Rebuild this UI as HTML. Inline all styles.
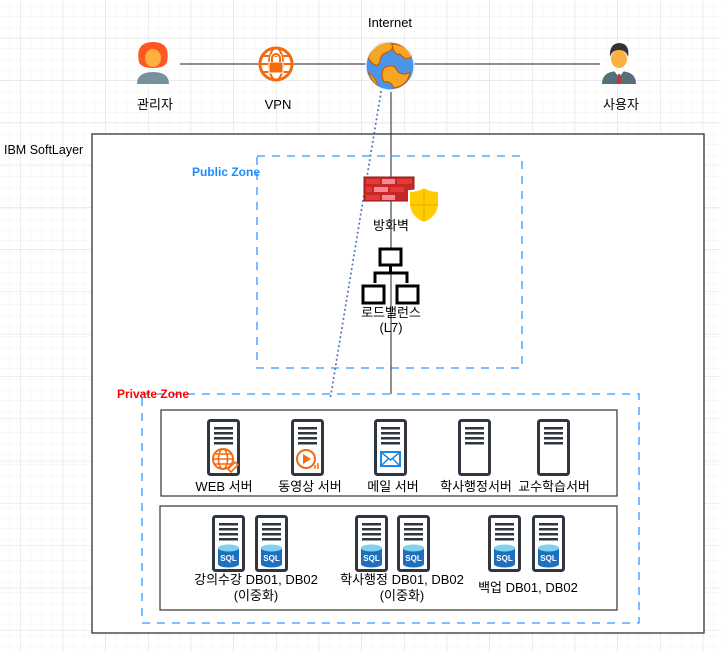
<!DOCTYPE html>
<html><head><meta charset="utf-8"><style>
body{margin:0;background:#fff}
svg{display:block}
text{font-family:"Liberation Sans","Noto Sans CJK KR",sans-serif;font-size:13px;fill:#000}
</style></head><body>
<svg width="721" height="652" viewBox="0 0 721 652" xmlns="http://www.w3.org/2000/svg">
<defs>
<pattern id="minor" x="20" y="37.8" width="10.6667" height="10.6667" patternUnits="userSpaceOnUse">
<path d="M0 0H10.6667M0 0V10.6667" stroke="#f1f1f1" stroke-width="1" fill="none"/>
</pattern>
<pattern id="major" x="20" y="37.8" width="42.6667" height="42.3" patternUnits="userSpaceOnUse">
<path d="M0 0H42.6667M0 0V42.3" stroke="#dddddd" stroke-width="1" fill="none"/>
</pattern>
<g id="srv">
<rect x="1.5" y="1.5" width="30" height="54" rx="2" fill="#fff" stroke="#2f3640" stroke-width="3"/>
<rect x="7" y="8" width="19" height="2.5" fill="#2f3640"/>
<rect x="7" y="13" width="19" height="2.5" fill="#2f3640"/>
<rect x="7" y="18" width="19" height="2.5" fill="#2f3640"/>
<rect x="7" y="23" width="19" height="2.5" fill="#2f3640"/>
</g>
<g id="sql">
<use href="#srv"/>
<path d="M6 33 v16 a10.5 3.5 0 0 0 21 0 v-16z" fill="#1f6fbf"/>
<ellipse cx="16.5" cy="33" rx="10.5" ry="3.5" fill="#7fd3ef"/>
<text x="16.5" y="46" text-anchor="middle" style="font-size:8px;font-weight:bold;fill:#fff">SQL</text>
</g>
</defs>
<rect width="721" height="652" fill="url(#minor)"/>
<rect width="721" height="652" fill="url(#major)"/>

<rect x="92" y="134" width="612" height="499" fill="#fff" stroke="#333" stroke-width="1.3"/>
<text x="4" y="154" style="font-size:12.5px">IBM SoftLayer</text>

<rect x="257" y="156" width="265" height="212" fill="none" stroke="#3399ff" stroke-width="1.3" stroke-dasharray="8,7"/>
<text x="192" y="176" style="fill:#1a8cff;font-weight:bold;font-size:12px">Public Zone</text>
<rect x="142" y="394" width="497" height="229" fill="none" stroke="#3399ff" stroke-width="1.3" stroke-dasharray="8,7"/>
<text x="117" y="398" style="fill:#ff0000;font-weight:bold;font-size:12px">Private Zone</text>

<line x1="180" y1="64" x2="600" y2="64" stroke="#222" stroke-width="1"/>
<line x1="391" y1="92" x2="391" y2="394" stroke="#222" stroke-width="1"/>
<line x1="381" y1="92" x2="330" y2="400" stroke="#5577bb" stroke-width="2" stroke-dasharray="0.1,4.5" stroke-linecap="round"/>

<g>
<path d="M139 62 q-4-20 14-20 q18 0 14 20 q-2 6-14 6 q-12 0-14-6z" fill="#ff5722"/>
<ellipse cx="153" cy="58" rx="8" ry="9" fill="#fbb040"/>
<path d="M137 84 q0-12 16-12 q16 0 16 12z" fill="#78909c"/>
<path d="M146 50 q7-6 15 0 v-3 q-8-5-15 0z" fill="#ff5722"/>
</g>
<text x="155" y="109" text-anchor="middle">관리자</text>

<g transform="translate(276,64)">
<circle r="16" fill="#fff" stroke="#f36b10" stroke-width="3"/>
<ellipse rx="7" ry="16" fill="none" stroke="#f36b10" stroke-width="2"/>
<line x1="-16" y1="0" x2="16" y2="0" stroke="#f36b10" stroke-width="2"/>
<line x1="-13" y1="-8" x2="13" y2="-8" stroke="#f36b10" stroke-width="2"/>
<line x1="-13" y1="8" x2="13" y2="8" stroke="#f36b10" stroke-width="2"/>
<rect x="-7" y="-2" width="14" height="11" fill="#f36b10" stroke="#fff" stroke-width="1"/>
<path d="M-4-2 v-4 a4 4 0 0 1 8 0 v4" fill="none" stroke="#fff" stroke-width="4"/>
<path d="M-4-2 v-4 a4 4 0 0 1 8 0 v4" fill="none" stroke="#f36b10" stroke-width="2"/>
</g>
<text x="278" y="109" text-anchor="middle">VPN</text>

<text x="390" y="27" text-anchor="middle">Internet</text>
<g transform="translate(390,66)">
<circle r="24" fill="#4a95ea"/>
<path d="M-22-8 q6-16 22-16 q6 6-2 10 q-8 2-8 10 q-4 8-12 -4z" fill="#f5a623" stroke="#c85a00" stroke-width="1.2"/>
<path d="M2-22 q14 0 20 12 q-6 6-12-2 q-6 2-8-10z" fill="#f5a623" stroke="#c85a00" stroke-width="1.2"/>
<path d="M-6 2 q10-6 14 4 q6 4 12 0 q-2 14-16 16 q-4-8-10-6 q-4-8 0-14z" fill="#f5a623" stroke="#c85a00" stroke-width="1.2"/>
<path d="M-22 6 q4 10 10 14 q-2-8-10-14z" fill="#f5a623" stroke="#c85a00" stroke-width="1"/>
<circle r="24" fill="none" stroke="#eef5ff" stroke-width="1.2"/>
</g>

<g>
<path d="M602 84 q0-13 17-13 q17 0 17 13z" fill="#546e7a"/>
<path d="M614 71 l5 6 l5-6z" fill="#fff"/>
<path d="M618 74 h2 l1 9 h-4z" fill="#d32f2f"/>
<ellipse cx="619" cy="59" rx="8" ry="9" fill="#fbb040"/>
<path d="M610 57 q-1-14 10-14 q10 1 8 14 q-2-7-9-7 q-7 0-9 7z" fill="#333"/>
</g>
<text x="621" y="109" text-anchor="middle">사용자</text>

<g>
<rect x="364" y="177" width="50" height="24" fill="#c62828" stroke="#8e1b1b"/>
<rect x="366" y="179" width="14" height="5" fill="#e53935"/><rect x="382" y="179" width="13" height="5" fill="#f48b94"/><rect x="397" y="179" width="15" height="5" fill="#e53935"/>
<rect x="366" y="187" width="6" height="5" fill="#e53935"/><rect x="374" y="187" width="14" height="5" fill="#f48b94"/><rect x="390" y="187" width="14" height="5" fill="#e53935"/>
<rect x="366" y="195" width="14" height="5" fill="#e53935"/><rect x="382" y="195" width="13" height="5" fill="#f48b94"/>
<path d="M409 191 q9 0 15 -4 q6 4 15 4 v12 q0 14 -15 20 q-15 -6 -15 -20z" fill="#ffcc00" stroke="#fff" stroke-width="2"/>
<path d="M424 191 v30 M410 205 h28" stroke="#f0a800" stroke-width="1"/>
</g>
<text x="391" y="230" text-anchor="middle">방화벽</text>

<g fill="#fff" stroke="#000" stroke-width="3">
<rect x="380" y="249" width="21" height="16"/>
<path d="M390.5 265 v8 M375 283 v-10 h32 v10" fill="none"/>
<rect x="363" y="286" width="21" height="17"/>
<rect x="397" y="286" width="21" height="17"/>
</g>
<text x="391" y="317" text-anchor="middle">로드밸런스</text>
<text x="391" y="332" text-anchor="middle">(L7)</text>

<rect x="161" y="410" width="456" height="86" fill="#fff" stroke="#333" stroke-width="1.2"/>
<rect x="160" y="506" width="457" height="104" fill="#fff" stroke="#333" stroke-width="1.2"/>

<g transform="translate(207,419)"><use href="#srv"/>
<circle cx="16" cy="40" r="10" fill="none" stroke="#f36b10" stroke-width="2"/>
<ellipse cx="16" cy="40" rx="4.5" ry="10" fill="none" stroke="#f36b10" stroke-width="1.6"/>
<path d="M6 40 h20 M8 35 h16 M8 45 h16" stroke="#f36b10" stroke-width="1.6"/>
<path d="M21 50 l7-7 l3 3 l-7 7z" fill="#fff" stroke="#f36b10" stroke-width="1.6"/>
</g>
<g transform="translate(291,419)"><use href="#srv"/>
<circle cx="15" cy="40" r="9" fill="none" stroke="#f36b10" stroke-width="2"/>
<path d="M12 35 v10 l8-5z" fill="#f36b10"/>
<path d="M24 46 v4 M27 44 v6" stroke="#f36b10" stroke-width="1.5"/>
</g>
<g transform="translate(374,419)"><use href="#srv"/>
<rect x="6" y="32" width="21" height="16" fill="#1e88e5"/>
<rect x="8" y="34" width="17" height="12" fill="#fff"/>
<path d="M8 34 l8.5 7 l8.5-7 M8 46 l6-6 M25 46 l-6-6" stroke="#1e88e5" stroke-width="1.5" fill="none"/>
</g>
<g transform="translate(458,419)"><use href="#srv"/></g>
<g transform="translate(537,419)"><use href="#srv"/></g>
<text x="224" y="491" text-anchor="middle">WEB 서버</text>
<text x="310" y="491" text-anchor="middle">동영상 서버</text>
<text x="393" y="491" text-anchor="middle">메일 서버</text>
<text x="476" y="491" text-anchor="middle">학사행정서버</text>
<text x="554" y="491" text-anchor="middle">교수학습서버</text>

<g transform="translate(212,515)"><use href="#sql"/></g>
<g transform="translate(255,515)"><use href="#sql"/></g>
<g transform="translate(355,515)"><use href="#sql"/></g>
<g transform="translate(397,515)"><use href="#sql"/></g>
<g transform="translate(488,515)"><use href="#sql"/></g>
<g transform="translate(532,515)"><use href="#sql"/></g>
<text x="256" y="584" text-anchor="middle">강의수강 DB01, DB02</text>
<text x="256" y="600" text-anchor="middle">(이중화)</text>
<text x="402" y="584" text-anchor="middle">학사행정 DB01, DB02</text>
<text x="402" y="600" text-anchor="middle">(이중화)</text>
<text x="528" y="592" text-anchor="middle">백업 DB01, DB02</text>
</svg>
</body></html>
